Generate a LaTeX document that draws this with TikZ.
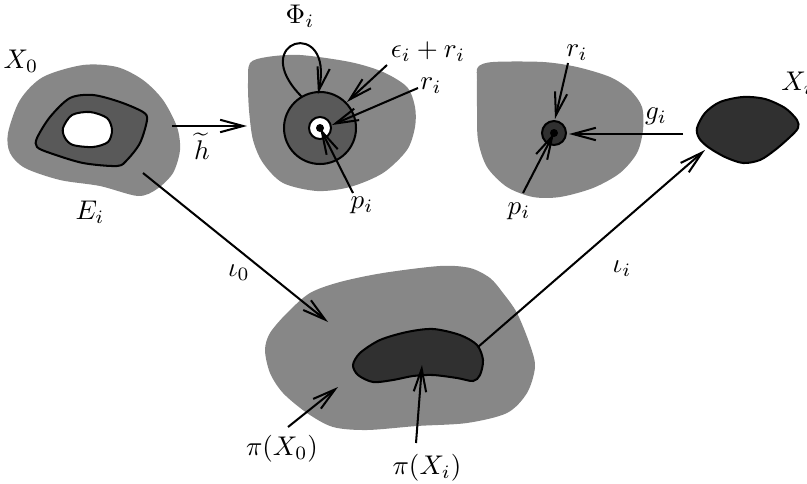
\documentclass[tikz,border=0pt]{standalone}
\usepackage{xcolor}
\usetikzlibrary{arrows.meta}

\definecolor{regiongray}{gray}{0.53}
\definecolor{ringgray}{gray}{0.35}
\definecolor{imagedark}{gray}{0.19}

\begin{document}
\begin{tikzpicture}[x=0.37pt,y=-0.37pt,line width=0.75pt,
  >={Straight Barb[length=8.5pt,width=4.6pt]},
  region/.style={fill=regiongray,draw=none},
  ring/.style={fill=ringgray,draw=black},
  imageblob/.style={fill=imagedark,draw=black},
  lbl/.style={inner sep=1pt}]
  \useasboundingbox (0,0) rectangle (807,483);

  % X_0 and the collar E_i
  \fill[region] plot[smooth cycle] coordinates {(8,133) (20,100) (43,77) (83,65) (117,67) (143,80) (163,100) (177,127) (180,150) (173,173) (157,189) (138,196) (100,186) (60,180) (25,168) (10,153)};
  \draw[ring] plot[smooth cycle] coordinates {(37,138) (50,117) (70,98) (93,95) (120,102) (143,112) (147,120) (140,143) (127,160) (117,166) (83,163) (50,153) (37,147)};
  \draw[fill=white] plot[smooth cycle] coordinates {(63,128) (72,115) (90,112) (107,118) (112,130) (108,142) (93,147) (73,145) (65,138)};

  % middle region with the balls round p_i
  \fill[region] plot[smooth cycle] coordinates {(250,63) (267,57) (300,55) (350,62) (383,72) (407,87) (415,107) (415,127) (407,150) (383,173) (350,187) (317,191) (283,183) (263,163) (253,140) (249,110) (248,83)};
  \coordinate (pmid) at (320,128);
  \draw[ring] (pmid) circle[radius=36];
  \draw[fill=white] (pmid) circle[radius=11];
  \fill (pmid) circle[radius=4];

  % right region with the small ball
  \fill[region] plot[smooth cycle] coordinates {(478,67) (493,62) (543,62) (577,67) (610,77) (630,90) (642,107) (643,130) (637,153) (620,173) (593,188) (560,197) (533,197) (507,187) (487,167) (478,140) (477,107) (477,80)};
  \coordinate (pright) at (554,133);
  \draw[imageblob] (pright) circle[radius=12];
  \fill (pright) circle[radius=4];

  % X_i
  \draw[imageblob] plot[smooth cycle] coordinates {(697,128) (705,113) (720,102) (743,97) (765,99) (785,108) (797,120) (798,128) (790,137) (775,150) (760,160) (743,163) (725,157) (708,147) (699,138)};

  % the quotient
  \fill[region] plot[smooth cycle] coordinates {(265,350) (270,333) (287,313) (310,293) (340,282) (383,273) (440,266) (470,268) (490,278) (503,293) (517,313) (530,345) (535,367) (527,393) (507,413) (467,423) (417,426) (367,430) (333,427) (307,413) (283,393) (270,373)};
  \draw[imageblob] plot[smooth cycle] coordinates {(353,365) (360,353) (380,340) (407,332) (433,329) (460,335) (477,345) (483,360) (480,375) (473,381) (457,378) (433,375) (413,376) (393,380) (373,382) (358,375)};

  % labels
  \node[lbl] (x0) at (21,61) {$X_0$};
  \node[lbl] (ei) at (90,212) {$E_i$};
  \node[lbl] (htil) at (202,146) {$\widetilde{h}$};
  \node[lbl] (phi) at (300,16) {$\Phi_i$};
  \node[lbl] (epsr) at (428,52) {$\epsilon_i + r_i$};
  \node[lbl] (rmid) at (431,86) {$r_i$};
  \node[lbl] (pmidlbl) at (362,205) {$p_i$};
  \node[lbl] (rright) at (577,53) {$r_i$};
  \node[lbl] (prightlbl) at (519,211) {$p_i$};
  \node[lbl] (gi) at (656,116) {$g_i$};
  \node[lbl] (xi) at (797,83) {$X_i$};
  \node[lbl] (iota0) at (239,273) {$\iota_0$};
  \node[lbl] (iotai) at (622,269) {$\iota_i$};
  \node[lbl] (pix0) at (282,449) {$\pi(X_0)$};
  \node[lbl] (pixi) at (427,468) {$\pi(X_i)$};

  % arrow ends
  \coordinate (h-a) at (172,126);
  \coordinate (h-b) at (247,126);
  \coordinate (loop-a) at (302,97);
  \coordinate (loop-b) at (318,94);
  \coordinate (epsr-a) at (387,65);
  \coordinate (epsr-b) at (347,102);
  \coordinate (rmid-a) at (418,88);
  \coordinate (rmid-b) at (332,125);
  \coordinate (pmid-a) at (353,193);
  \coordinate (rright-a) at (568,63);
  \coordinate (rright-b) at (555,119);
  \coordinate (pright-a) at (523,193);
  \coordinate (g-a) at (683,134);
  \coordinate (g-b) at (569,134);
  \coordinate (iota0-a) at (143,173);
  \coordinate (iota0-b) at (328,322);
  \coordinate (iotai-a) at (478,347);
  \coordinate (iotai-b) at (705,150);
  \coordinate (pix0-a) at (288,427);
  \coordinate (pix0-b) at (338,387);
  \coordinate (pixi-a) at (416,443);
  \coordinate (pixi-b) at (422,365);

  % arrows
  \draw[->] (h-a) -- (h-b);
  \draw[->] (loop-a) .. controls (245,40) and (335,15) .. (loop-b);
  \draw[->] (epsr-a) -- (epsr-b);
  \draw[->] (rmid-a) -- (rmid-b);
  \draw[->] (pmid-a) -- (pmid);
  \draw[->] (rright-a) -- (rright-b);
  \draw[->] (pright-a) -- (pright);
  \draw[->] (g-a) -- (g-b);
  \draw[->] (iota0-a) -- (iota0-b);
  \draw[->] (iotai-a) -- (iotai-b);
  \draw[->] (pix0-a) -- (pix0-b);
  \draw[->] (pixi-a) -- (pixi-b);
\end{tikzpicture}
\end{document}
